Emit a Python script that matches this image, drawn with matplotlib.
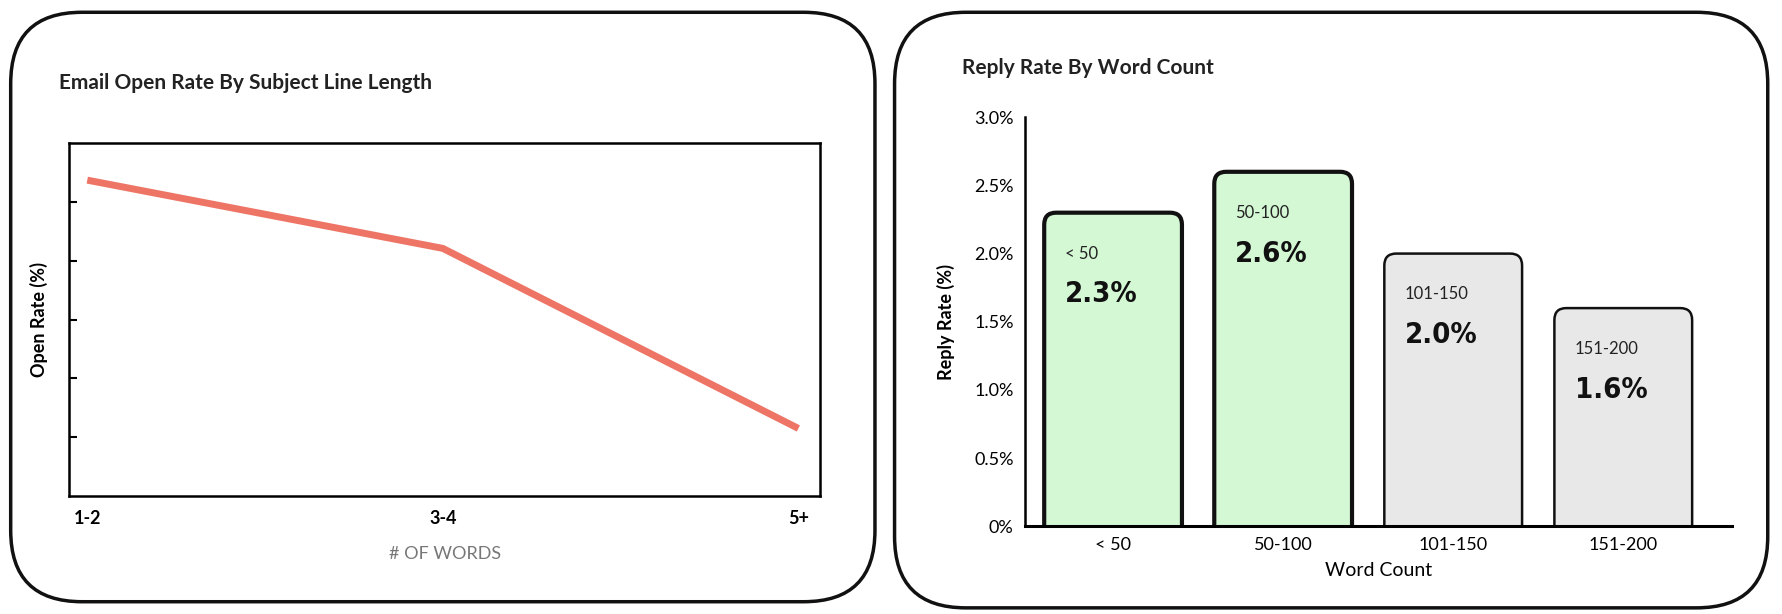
import matplotlib
matplotlib.use("Agg")
import matplotlib.pyplot as plt
from matplotlib.patches import FancyBboxPatch

plt.rcParams['font.family'] = ['Lato', 'DejaVu Sans']

line_cats = ["1-2", "3-4", "5+"]
line_vals = [5.37, 4.21, 1.15]

bar_cats = ["< 50", "50-100", "101-150", "151-200"]
bar_vals = [2.3, 2.6, 2.0, 1.6]
bar_labels = ["2.3%", "2.6%", "2.0%", "1.6%"]
highlight = [True, True, False, False]

fig = plt.figure(figsize=(17.82, 6.14), dpi=100)

for (x0, y0, w, h) in [(0.006, 0.02, 0.485, 0.96), (0.502, 0.01, 0.49, 0.97)]:
    fig.patches.append(FancyBboxPatch((x0, y0), w, h, boxstyle="round,pad=0,rounding_size=0.04",
                                      mutation_aspect=17.82/6.14, transform=fig.transFigure,
                                      facecolor="white", edgecolor="#111111", lw=2.5, zorder=-5))

# Left chart
ax1 = fig.add_axes([0.039, 0.192, 0.421, 0.575])
ax1.patch.set_alpha(0)
xs = range(len(line_cats))
ax1.plot(xs, line_vals, color="#ee7566", lw=5, solid_capstyle="butt")
ax1.set_xlim(-0.05, 2.06)
ax1.set_ylim(0, 6)
ax1.set_yticks([1, 2, 3, 4, 5])
ax1.set_yticklabels([])
ax1.set_xticks(list(xs))
ax1.set_xticklabels(line_cats, fontsize=13, fontweight="bold")
ax1.tick_params(axis="x", length=0, pad=10)
ax1.tick_params(axis="y", length=6, width=1.5, direction="in")
for s in ax1.spines.values():
    s.set_linewidth(1.8)
ax1.set_ylabel("Open Rate (%)", fontsize=13, fontweight="bold", labelpad=12)
ax1.set_xlabel("# OF WORDS", fontsize=13, color="#777777", labelpad=14)
fig.text(0.033, 0.865, "Email Open Rate By Subject Line Length", fontsize=15, fontweight="bold",
         color="#222222", va="center")

# Right chart
ax2 = fig.add_axes([0.575, 0.143, 0.397, 0.666])
ax2.patch.set_alpha(0)
ax2.set_xlim(-0.52, 3.64)
ax2.set_ylim(0, 3.0)
bw = 0.81
for i, v in enumerate(bar_vals):
    fc = "#d4f7d4" if highlight[i] else "#e8e8e8"
    lw = 3 if highlight[i] else 1.8
    p = FancyBboxPatch((i - bw/2, -0.2), bw, v + 0.2, boxstyle="round,pad=0,rounding_size=0.07",
                       mutation_aspect=1.25, facecolor=fc, edgecolor="#111111", lw=lw, clip_on=True)
    ax2.add_patch(p)
    ax2.text(i - bw/2 + 0.12, v - 0.3, bar_cats[i], fontsize=12, va="center", ha="left", color="#222222")
    ax2.text(i - bw/2 + 0.12, v - 0.6, bar_labels[i], fontsize=21, fontweight="bold",
             va="center", ha="left", color="#111111", family=["DejaVu Sans"], stretch="condensed")
ax2.set_xticks(range(len(bar_cats)))
ax2.set_xticklabels(bar_cats, fontsize=13)
ax2.set_yticks([0, 0.5, 1.0, 1.5, 2.0, 2.5, 3.0])
ax2.set_yticklabels(["0%", "0.5%", "1.0%", "1.5%", "2.0%", "2.5%", "3.0%"], fontsize=13)
ax2.tick_params(length=0, pad=8)
ax2.spines["top"].set_visible(False)
ax2.spines["right"].set_visible(False)
ax2.spines["left"].set_linewidth(1.8)
ax2.spines["bottom"].set_linewidth(2.2)
ax2.set_ylabel("Reply Rate (%)", fontsize=13, fontweight="bold", labelpad=14)
ax2.set_xlabel("Word Count", fontsize=14, labelpad=6)
fig.text(0.54, 0.889, "Reply Rate By Word Count", fontsize=15, fontweight="bold", color="#222222",
         va="center")

fig.savefig("out.png", dpi=100)
